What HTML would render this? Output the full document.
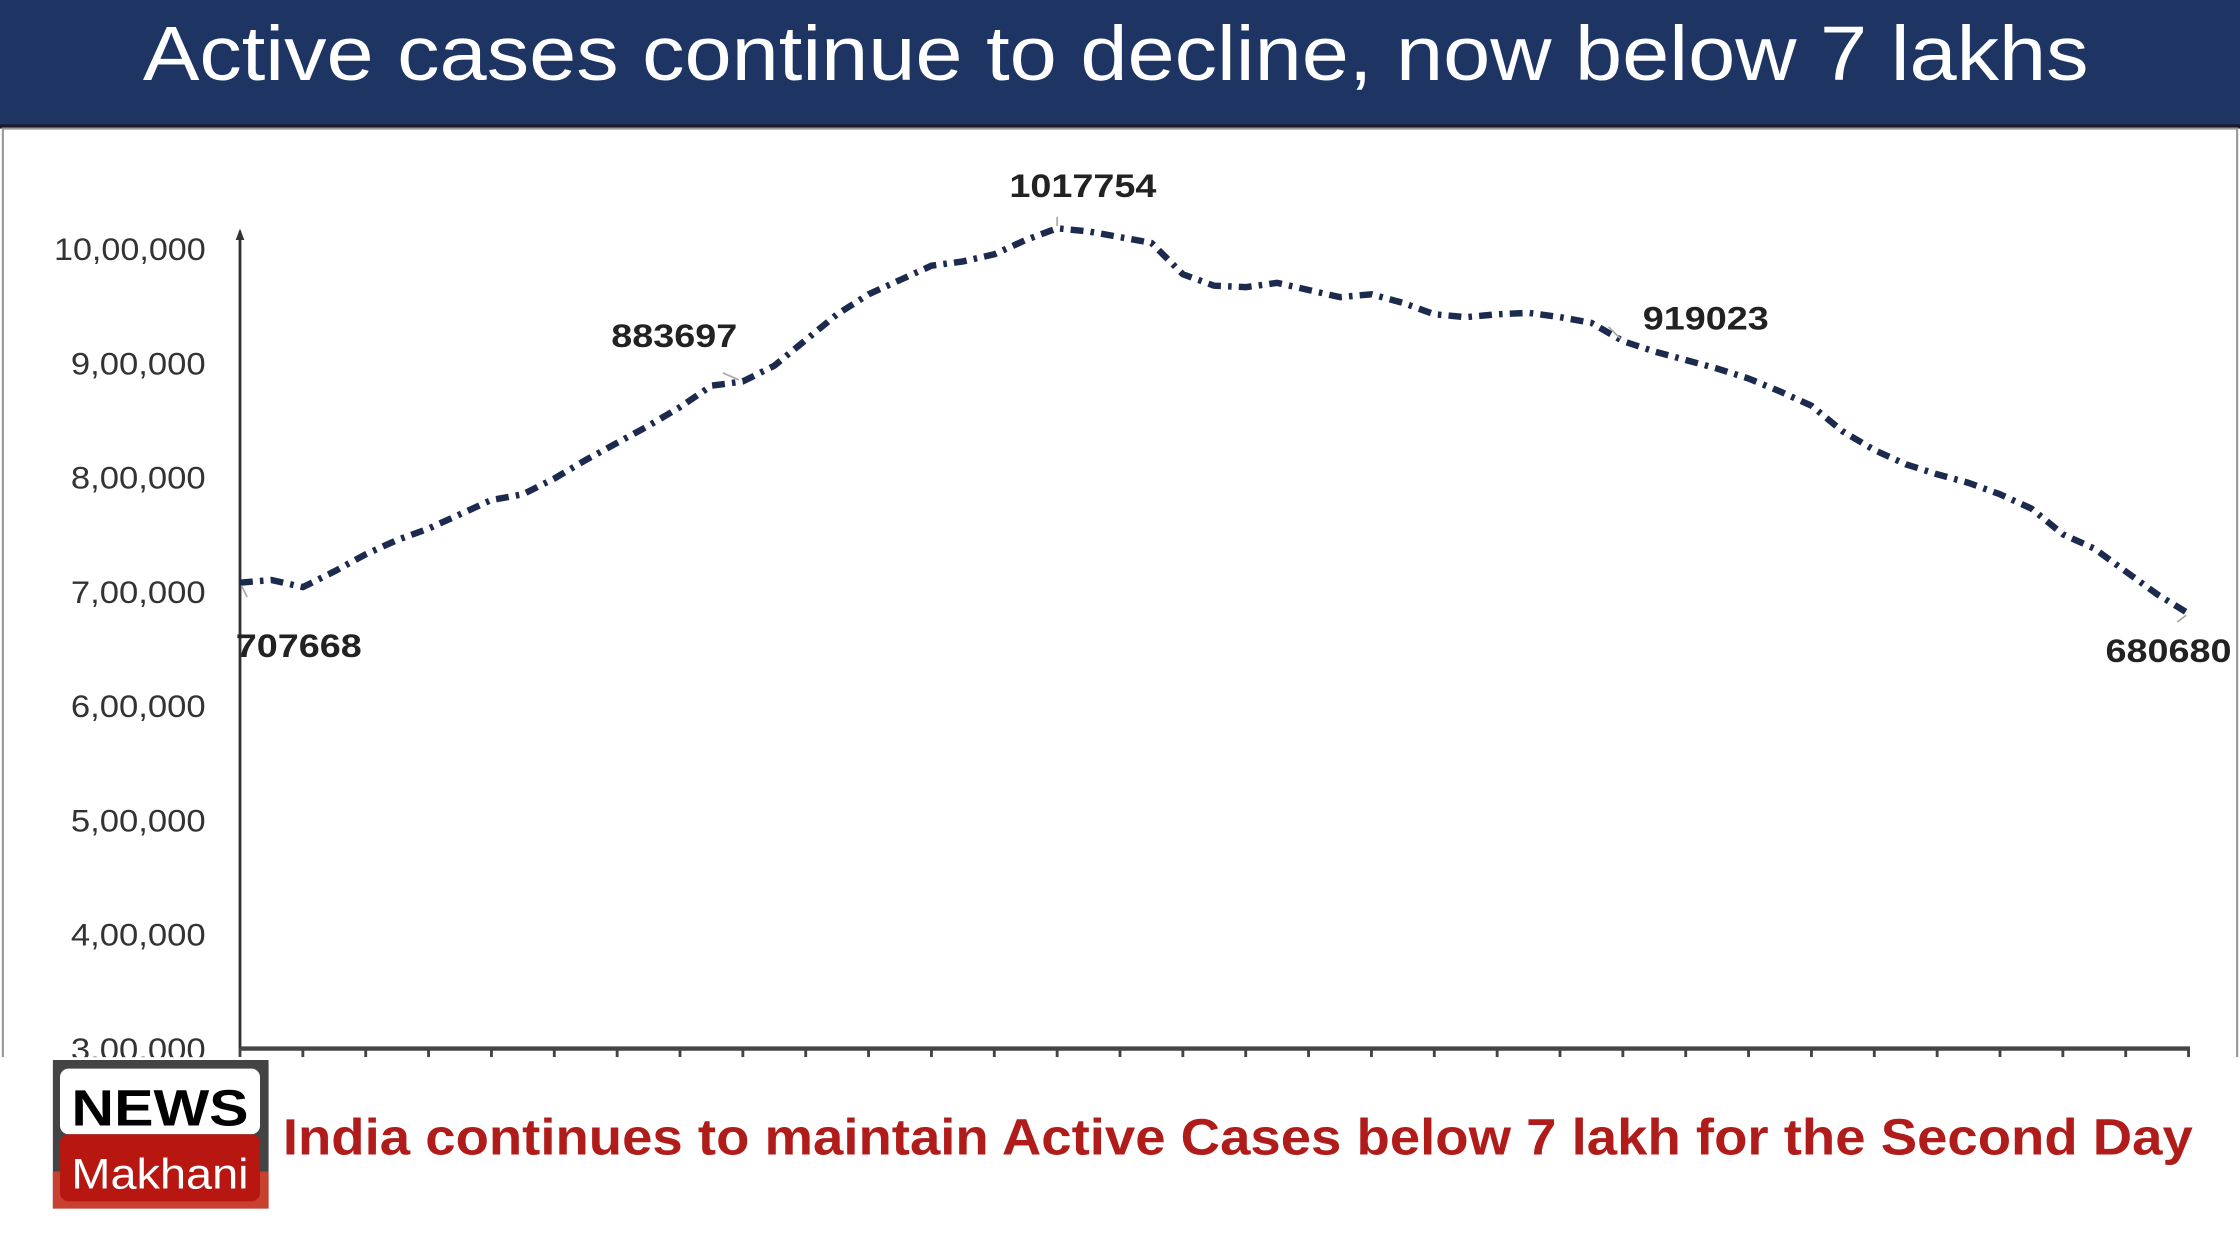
<!DOCTYPE html>
<html><head><meta charset="utf-8"><style>
html,body{margin:0;padding:0;background:#fff;}
svg{display:block;}
text{font-family:"Liberation Sans",sans-serif;}
</style></head><body>
<svg id="chart" width="2240" height="1260" viewBox="0 0 1568 882" xmlns="http://www.w3.org/2000/svg">
<rect x="0" y="0" width="1568" height="882" fill="#fff"/>
<g>
<rect x="0" y="0" width="1568" height="88" fill="#1e3462"/>
<rect x="0" y="87" width="1568" height="3" fill="#1a1a2a"/>
<text x="100" y="56" font-size="54" fill="#fff" textLength="1362" lengthAdjust="spacingAndGlyphs">Active cases continue to decline, now below 7 lakhs</text>
</g>
<rect x="2" y="90" width="1564" height="652" fill="none" stroke="#999" stroke-width="1.5"/>
<g id="axes"></g>
<g id="marks"></g>
<g id="annotations"></g>
<rect x="0" y="740" width="1568" height="142" fill="#fff"/>
<g>
<rect x="37" y="742" width="151" height="104" fill="#444"/>
<rect x="37" y="820" width="151" height="26" fill="#c84030"/>
<rect x="42" y="748" width="140" height="46" rx="6" fill="#fff"/>
<rect x="42" y="794" width="140" height="47" rx="6" fill="#b81610"/>
<text x="112" y="788" font-size="36" font-weight="bold" text-anchor="middle" fill="#000" textLength="124" lengthAdjust="spacingAndGlyphs">NEWS</text>
<text x="112" y="832" font-size="30" text-anchor="middle" fill="#fff" textLength="124" lengthAdjust="spacingAndGlyphs">Makhani</text>
</g>
<text x="198" y="808" font-size="36" font-weight="bold" fill="#b01c1a" textLength="1337" lengthAdjust="spacingAndGlyphs">India continues to maintain Active Cases below 7 lakh for the Second Day</text>
</svg>
<script>
const activeCases = [707668,710000,703750,717500,732500,745000,755000,767500,780000,785000,798750,815000,830000,845000,861250,880000,883697,897500,920000,942500,960000,972500,985000,988750,995000,1007500,1017754,1015000,1010000,1005000,977500,967500,966250,970000,963750,957500,960000,952500,942500,940000,942500,943750,940000,935000,919023,910000,902500,895000,886250,875000,862500,840000,823750,811250,802500,795000,785000,772500,750000,737500,717500,697500,680680];
const yTickValues = [300000,400000,500000,600000,700000,800000,900000,1000000];
const yTickLabels = ["3,00,000","4,00,000","5,00,000","6,00,000","7,00,000","8,00,000","9,00,000","10,00,000"];
const annotatedIndices = [0,16,26,44,62];
const annotationLabels = ["707668","883697","1017754","919023","680680"];

const NS="http://www.w3.org/2000/svg";
const X0=168,X1=1532,Y0=734;
function xPos(i){return X0+(X1-X0)*i/(activeCases.length-1);}
function yPos(v){return Y0-(v-300000)/100000*80;}
function mk(tag,attrs,parent){const e=document.createElementNS(NS,tag);for(const k in attrs)e.setAttribute(k,attrs[k]);parent.appendChild(e);return e;}
const axes=document.getElementById('axes'),marks=document.getElementById('marks'),ann=document.getElementById('annotations');

const yAxis=mk('line',{x1:X0,y1:yPos(1000000)-12,x2:X0,y2:Y0,stroke:'#333','stroke-width':2},axes);


const arrow=mk('path',{d:`M${X0-3} ${yPos(1000000)-6} L${X0} ${yPos(1000000)-14} L${X0+3} ${yPos(1000000)-6}Z`,fill:'#333'},axes);


const xAxis=mk('line',{x1:X0,y1:Y0,x2:X1+1,y2:Y0,stroke:'#444','stroke-width':3},axes);


for(let i=0;i<activeCases.length;i+=2){
  const t=mk('line',{x1:xPos(i),y1:Y0,x2:xPos(i),y2:Y0+6,stroke:'#444','stroke-width':2},axes);
  
  
}
yTickValues.forEach((v,i)=>{
  const lab=yTickLabels[i];
  const t=mk('text',{x:144,y:yPos(v)+8,'font-size':22,'text-anchor':'end',fill:'#333',textLength:lab.length*11.8,lengthAdjust:'spacingAndGlyphs'},axes);
  t.textContent=lab;
  
  
});
const d=activeCases.map((v,i)=>(i?'L':'M')+xPos(i).toFixed(1)+' '+yPos(v).toFixed(1)).join(' ');
const line=mk('path',{d:d,fill:'none',stroke:'#1c2a4e','stroke-width':4.5,'stroke-dasharray':'9 5 2.5 5','stroke-linejoin':'round'},marks);



const offs=[[-3,44,'start',5,10],[-48,-32,'middle',-14,-6],[18,-30,'middle',0,-8],[58,-16,'middle',-10,-10],[-14,26,'middle',-8,6]];
annotatedIndices.forEach((idx,k)=>{
  const px=xPos(idx),py=yPos(activeCases[idx]);const o=offs[k];
  const l=mk('line',{x1:px+o[3]*0.2,y1:py+o[4]*0.2,x2:px+o[3],y2:py+o[4],stroke:'#aaa','stroke-width':1.2},ann);
  
  
  const lab=annotationLabels[k];
  const t=mk('text',{x:px+o[0],y:py+o[1]+8,'font-size':23,'font-weight':'bold','text-anchor':o[2],fill:'#222',textLength:lab.length*14.7,lengthAdjust:'spacingAndGlyphs'},ann);
  t.textContent=lab;
  
  
});
</script>
</body></html>
